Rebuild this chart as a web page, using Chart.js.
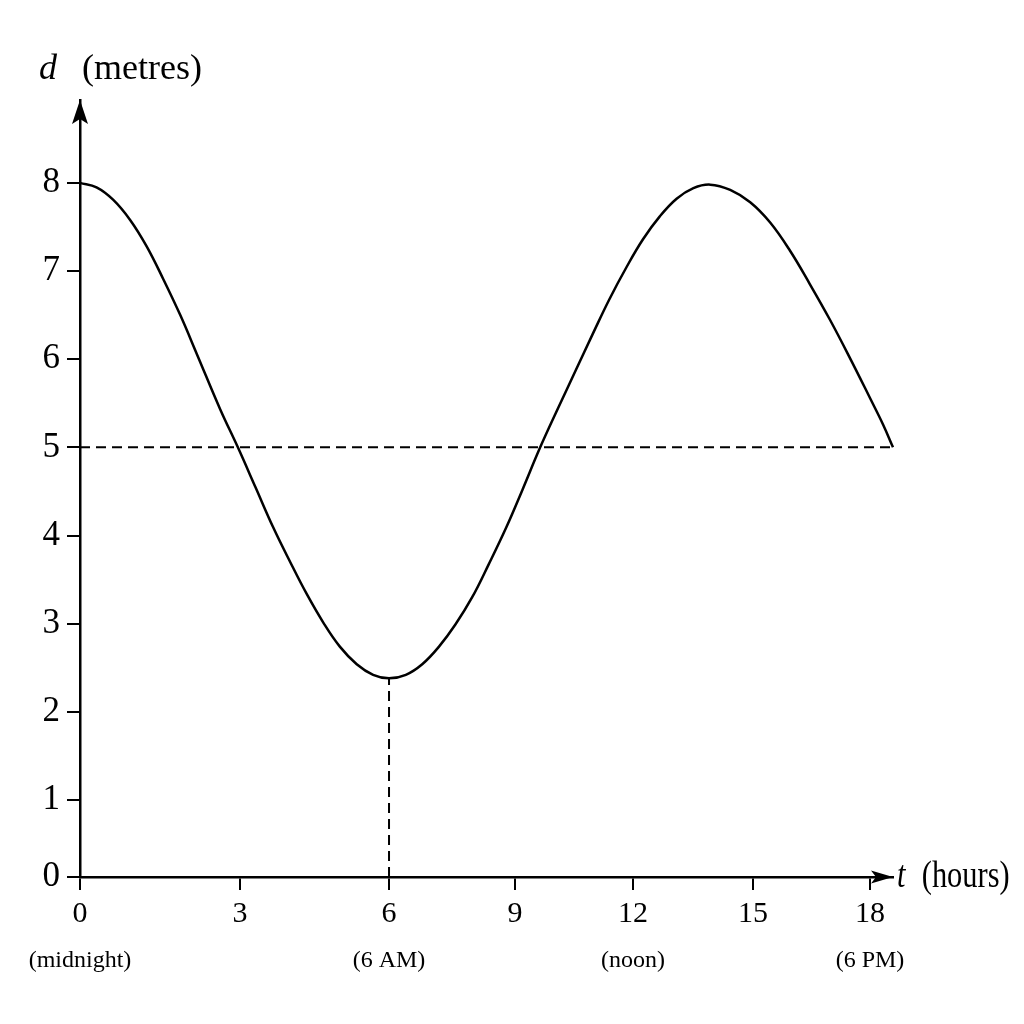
<!DOCTYPE html>
<html><head><meta charset="utf-8">
<script src="https://cdn.jsdelivr.net/npm/chart.js@4.4.1/dist/chart.umd.min.js"></script>
<style>html,body{margin:0;padding:0;background:#fff;} #c{display:block;}</style>
</head><body>
<canvas id="c" width="1024" height="1024"></canvas>
<script>
// ---- data ----
const hours = [0, 0.31, 0.62, 0.94, 1.25, 1.56, 1.88, 2.19, 2.63, 2.96, 3.31, 3.67, 4.01, 4.34, 4.68, 5.01, 5.35, 5.68, 6.0, 6.40, 6.79, 7.19, 7.58, 7.98, 8.37, 8.79, 9.19, 9.64, 10.09, 10.55, 10.98, 11.40, 11.83, 12.25, 12.67, 13.09, 13.51, 13.93, 14.43, 14.93, 15.44, 15.95, 16.46, 16.97, 17.49, 18.0, 18.34, 18.6];
const depth = [8.0, 7.95, 7.81, 7.58, 7.28, 6.91, 6.50, 6.06, 5.43, 5.0, 4.55, 4.09, 3.70, 3.34, 3.01, 2.74, 2.54, 2.42, 2.38, 2.42, 2.54, 2.74, 2.99, 3.30, 3.67, 4.09, 4.52, 5.0, 5.44, 5.88, 6.29, 6.68, 7.04, 7.36, 7.62, 7.82, 7.94, 7.98, 7.92, 7.78, 7.55, 7.23, 6.85, 6.45, 6.01, 5.56, 5.26, 5.0];
const yTicks = [0, 1, 2, 3, 4, 5, 6, 7, 8];
const xTicks = [0, 3, 6, 9, 12, 15, 18];
const noteHours = [0, 6, 12, 18];
const noteLabels = ['(midnight)', '(6 AM)', '(noon)', '(6 PM)'];
const meanLevel = 5;
const lowTideHour = 6;
const lowTideDepth = 2.38;
const tMax = 18.6;
const dMax = 8.94;

// ---- a linear scale whose value-to-pixel mapping is piecewise linear (the drawing's axis spacing is uneven) ----
class PiecewiseScale extends Chart.LinearScale {
  _toDec(v) {
    const k = this.options.knots, f = this.options.fractions;
    let i = 1;
    while (i < k.length - 1 && v > k[i]) i++;
    return f[i - 1] + (v - k[i - 1]) * (f[i] - f[i - 1]) / (k[i] - k[i - 1]);
  }
  _fromDec(d) {
    const k = this.options.knots, f = this.options.fractions;
    let i = 1;
    while (i < f.length - 1 && d > f[i]) i++;
    return k[i - 1] + (d - f[i - 1]) * (k[i] - k[i - 1]) / (f[i] - f[i - 1]);
  }
  getPixelForValue(v) {
    if (v === null || v === undefined || isNaN(v)) return NaN;
    return this.getPixelForDecimal(this._toDec(+v));
  }
  getValueForPixel(p) {
    return this._fromDec(this.getDecimalForPixel(p));
  }
}
PiecewiseScale.id = 'piecewise';
PiecewiseScale.defaults = Chart.LinearScale.defaults;
Chart.register(PiecewiseScale);

const SERIF = '"Liberation Serif", "Times New Roman", serif';

const xKnots = xTicks.concat([tMax]);
const xFractions = [0, 0.1968, 0.3801, 0.5351, 0.6802, 0.8278, 0.9717, 1];
const yKnots = [0, 1, dMax];
const yFractions = [0, 0.0991, 1];

const axisDecor = {
  id: 'axisDecor',
  afterDraw(chart) {
    const ctx = chart.ctx, a = chart.chartArea;
    ctx.save();
    ctx.fillStyle = '#000';
    // y arrow head
    ctx.beginPath();
    ctx.moveTo(a.left, a.top);
    ctx.lineTo(a.left - 8, a.top + 24);
    ctx.lineTo(a.left, a.top + 19);
    ctx.lineTo(a.left + 8, a.top + 24);
    ctx.closePath();
    ctx.fill();
    // x arrow head
    ctx.beginPath();
    ctx.moveTo(a.right, a.bottom);
    ctx.lineTo(a.right - 22, a.bottom - 6.5);
    ctx.lineTo(a.right - 17, a.bottom);
    ctx.lineTo(a.right - 22, a.bottom + 6.5);
    ctx.closePath();
    ctx.fill();
    // axis names
    ctx.textBaseline = 'alphabetic';
    ctx.textAlign = 'left';
    ctx.font = 'italic 36px ' + SERIF;
    ctx.fillText('d', 39, 79);
    ctx.font = '36px ' + SERIF;
    ctx.fillText('(metres)', 82, 79);
    ctx.save();
    ctx.translate(a.right + 4, a.bottom + 10);
    ctx.scale(0.8, 1);
    ctx.font = 'italic 38px ' + SERIF;
    ctx.fillText('t', 0, 0);
    ctx.font = '38px ' + SERIF;
    ctx.fillText('(hours)', 31, 0);
    ctx.restore();
    ctx.restore();
  }
};

new Chart(document.getElementById('c'), {
  type: 'line',
  data: {
    datasets: [
      {
        data: hours.map((t, i) => ({ x: t, y: depth[i] })),
        borderColor: '#000', borderWidth: 2.5, pointRadius: 0,
        tension: 0.4, fill: false, clip: false
      },
      {
        data: [{ x: 0, y: meanLevel }, { x: tMax, y: meanLevel }],
        borderColor: '#000', borderWidth: 2, borderDash: [10, 6], pointRadius: 0, fill: false, clip: false
      },
      {
        data: [{ x: lowTideHour, y: 0 }, { x: lowTideHour, y: lowTideDepth }],
        borderColor: '#000', borderWidth: 2, borderDash: [10, 6], pointRadius: 0, fill: false, clip: false
      }
    ]
  },
  options: {
    responsive: false,
    animation: false,
    events: [],
    layout: { padding: { left: 0, top: 100, right: 131, bottom: 0 } },
    plugins: { legend: { display: false }, tooltip: { enabled: false }, title: { display: false } },
    scales: {
      x: {
        type: 'piecewise', position: 'bottom', weight: 0,
        min: 0, max: tMax, knots: xKnots, fractions: xFractions,
        afterBuildTicks: s => { s.ticks = xTicks.map(v => ({ value: v })); },
        afterFit: s => { s.height = 55; },
        grid: { display: true, drawOnChartArea: false, drawTicks: true, tickLength: 13, color: '#000', lineWidth: 2 },
        border: { display: true, color: '#000', width: 2.5 },
        ticks: {
          color: '#000', font: { family: SERIF, size: 30 }, padding: 6,
          maxRotation: 0, autoSkip: false, callback: v => String(v)
        }
      },
      x2: {
        type: 'piecewise', position: 'bottom', weight: 1,
        min: 0, max: tMax, knots: xKnots, fractions: xFractions,
        afterBuildTicks: s => { s.ticks = noteHours.map(v => ({ value: v })); },
        afterFit: s => { s.height = 92; },
        grid: { display: false, drawTicks: false },
        border: { display: false },
        ticks: {
          color: '#000', font: { family: SERIF, size: 24 }, padding: 14,
          maxRotation: 0, autoSkip: false,
          callback: v => noteLabels[noteHours.indexOf(v)]
        }
      },
      y: {
        type: 'piecewise', position: 'left',
        min: 0, max: dMax, knots: yKnots, fractions: yFractions,
        afterBuildTicks: s => { s.ticks = yTicks.map(v => ({ value: v })); },
        afterFit: s => { s.width = 80; },
        grid: { display: true, drawOnChartArea: false, drawTicks: true, tickLength: 13, color: '#000', lineWidth: 2 },
        border: { display: true, color: '#000', width: 2.5 },
        ticks: {
          color: '#000', font: { family: SERIF, size: 35 }, padding: 7,
          autoSkip: false, callback: v => String(v)
        }
      }
    }
  },
  plugins: [axisDecor]
});
</script>
</body></html>
